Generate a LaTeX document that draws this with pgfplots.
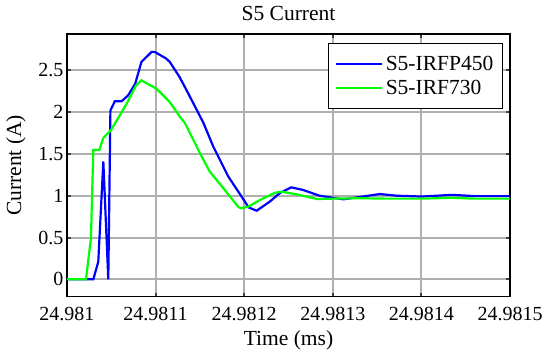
\documentclass[border=0pt]{standalone}
\usepackage{fontspec}
\setmainfont{Liberation Serif}
\usepackage{pgfplots}
\pgfplotsset{compat=1.18}
\usetikzlibrary{calc}
\definecolor{mblue}{RGB}{0,0,255}
\definecolor{mgreen}{RGB}{0,255,0}
\definecolor{gridgray}{RGB}{175,175,175}
\begin{document}
\begin{tikzpicture}
\begin{axis}[
  at={(0pt,0pt)}, anchor=south west, name=ax,
  scale only axis, width=443pt, height=262.7pt,
  xmin=0, xmax=5, ymin=-0.208, ymax=2.934,
  xtick={0,1,2,3,4,5},
  xticklabels={24.981,24.9811,24.9812,24.9813,24.9814,24.9815},
  ytick={0,0.5,1,1.5,2,2.5},
  yticklabels={0,0.5,1,1.5,2,2.5},
  grid=major,
  grid style={gridgray, line width=2pt},
  tick style={black!75, line width=2pt},
  major tick length=4pt,
  axis line style={black, line width=1.2pt},
  ticklabel style={font=\fontsize{20}{21}\selectfont},
  xticklabel style={yshift=-7pt},
  title={S5 Current},
  title style={font=\fontsize{21.5}{22}\selectfont, at={($(rel axis cs:0.5,1)+(0,15pt)$)}, anchor=center},
  xlabel={Time (ms)},
  xlabel style={font=\fontsize{21.5}{22}\selectfont, at={($(rel axis cs:0.5,0)+(0,-44pt)$)}, anchor=center},
  ylabel={Current (A)},
  ylabel style={font=\fontsize{21.5}{22}\selectfont, at={($(rel axis cs:0,0.5)+(-51pt,0)$)}, anchor=center},
  legend style={at={(1,1)}, anchor=north east, xshift=-6.7pt, yshift=-9.3pt,
    font=\fontsize{21.5}{22}\selectfont, draw=black, line width=1pt, fill=white,
    inner xsep=7pt, inner ysep=10pt, row sep=3pt,
    nodes={inner sep=2.5pt}},
  legend cell align=left,
  legend image code/.code={\draw[#1] (0pt,0pt) -- (46pt,0pt);},
]
\addplot[mblue, line width=2.2pt] coordinates {
(0,0) (0.297,0) (0.353,0.21) (0.41,1.41) (0.466,0) (0.49,2.02) (0.54,2.13)
(0.617,2.13) (0.69,2.20) (0.77,2.34) (0.84,2.60) (0.955,2.72) (0.99,2.72)
(1.12,2.64) (1.16,2.60) (1.27,2.42) (1.37,2.22) (1.54,1.87) (1.65,1.59)
(1.82,1.23) (1.97,0.99) (2.05,0.86) (2.14,0.82) (2.29,0.93) (2.40,1.03)
(2.53,1.10) (2.66,1.07) (2.85,1.0) (2.97,0.98) (3.12,0.957) (3.34,0.99)
(3.53,1.02) (3.72,1.0) (4.0,0.99) (4.35,1.01) (4.6,0.995) (5,0.995)
};
\addlegendentry{S5-IRFP450}
\addplot[mgreen, line width=2.2pt] coordinates {
(0,0) (0.214,0) (0.27,0.49) (0.297,1.546) (0.364,1.546) (0.41,1.69) (0.50,1.79)
(0.673,2.10) (0.78,2.32) (0.84,2.38) (1.01,2.28) (1.16,2.12) (1.27,1.95)
(1.33,1.87) (1.50,1.51) (1.61,1.29) (1.78,1.07) (1.93,0.87) (1.96,0.85)
(2.05,0.87) (2.18,0.95) (2.35,1.036) (2.42,1.048) (2.59,1.017) (2.70,0.99)
(2.82,0.96) (3.0,0.965) (3.3,0.97) (3.6,0.965) (4.0,0.965) (4.35,0.975)
(4.6,0.965) (5,0.965)
};
\addlegendentry{S5-IRF730}
\end{axis}
\pgfresetboundingbox
\path[use as bounding box] (-67pt,-57.3pt) rectangle (478pt,296.7pt);
\end{tikzpicture}
\end{document}
